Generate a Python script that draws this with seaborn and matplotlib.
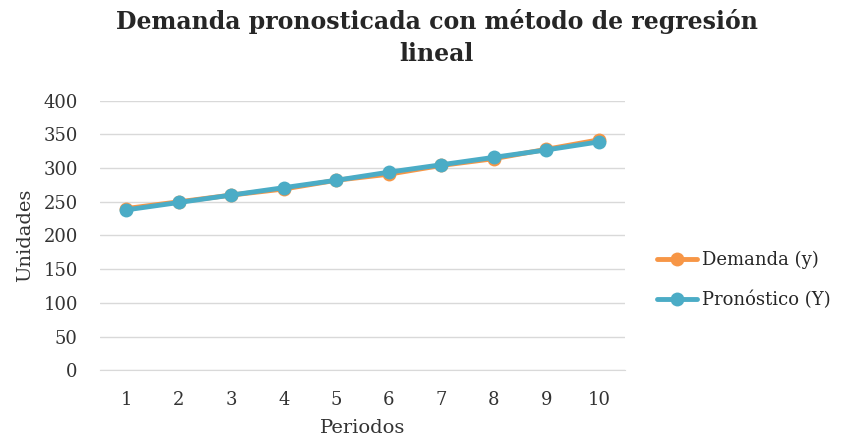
"""Demanda pronosticada con método de regresión lineal — gráfico de líneas."""

import matplotlib

matplotlib.use("Agg")

import matplotlib.pyplot as plt
import pandas as pd
import seaborn as sns

periodos = [1, 2, 3, 4, 5, 6, 7, 8, 9, 10]
demanda = [240, 250, 260, 269, 282, 291, 304, 314, 328, 342]
pronostico = [238, 249, 260, 271, 282, 294, 305, 316, 327, 339]
series = ["Demanda (y)", "Pronóstico (Y)"]
colores = ["#F79646", "#4BACC6"]

df = pd.DataFrame(
    {
        "Periodos": periodos * 2,
        "Unidades": demanda + pronostico,
        "serie": [series[0]] * len(periodos) + [series[1]] * len(periodos),
    }
)

sns.set_style("white")
plt.rcParams["font.family"] = ["DejaVu Serif"]

fig = plt.figure(figsize=(8.55, 4.46), dpi=100)
ax = fig.add_axes([0.117, 0.170, 0.614, 0.604])

sns.lineplot(
    data=df,
    x="Periodos",
    y="Unidades",
    hue="serie",
    palette=colores,
    marker="o",
    markersize=10,
    markeredgewidth=0,
    linewidth=3.5,
    ax=ax,
)

ax.set_xlim(0.5, 10.5)
ax.set_ylim(0, 400)
ax.set_xticks(periodos)
ax.set_yticks(range(0, 401, 50))
ax.tick_params(axis="y", length=0, labelsize=13, colors="#333333", pad=16)
ax.tick_params(axis="x", length=0, labelsize=13, colors="#333333", pad=15)
ax.yaxis.grid(True, color="#D9D9D9", linewidth=1)
ax.set_axisbelow(True)
for side in ["top", "right", "left"]:
    ax.spines[side].set_visible(False)
ax.spines["bottom"].set_color("#D9D9D9")

ax.set_xlabel("Periodos", fontsize=14, color="#333333", labelpad=7)
ax.set_ylabel("Unidades", fontsize=14, color="#333333", labelpad=7)
fig.suptitle(
    "Demanda pronosticada con método de regresión\nlineal",
    fontsize=17,
    fontweight="bold",
    x=0.511,
    y=0.98,
    linespacing=1.4,
)

ax.legend(
    loc="center left",
    bbox_to_anchor=(1.03, 0.335),
    frameon=False,
    fontsize=13,
    handlelength=2.2,
    handletextpad=0.3,
    labelspacing=1.2,
)

fig.savefig("out.png", dpi=100)
